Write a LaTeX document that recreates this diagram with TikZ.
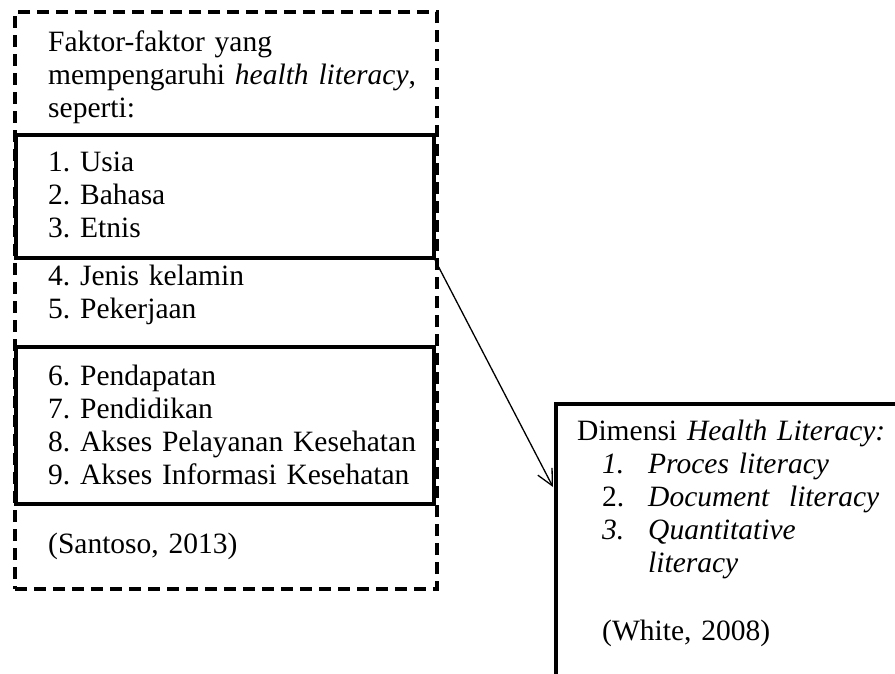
\documentclass[tikz,border=0pt]{standalone}
\usepackage{fontspec}
\setmainfont{Liberation Serif}
\usetikzlibrary{arrows.meta}
\frenchspacing
\tikzset{
  txt/.style={anchor=base west, inner sep=0pt, text width=#1, align=left,
    font=\fontsize{29.5}{33.3}\selectfont\frenchspacing},
  txt/.default=380pt,
  dashbox/.style={draw, line width=4pt, dash pattern=on 12pt off 7pt, inner sep=0pt, anchor=north west},
  solidbox/.style={draw, line width=4pt, inner sep=0pt, anchor=north west},
  conn/.style={line width=1.3pt, -{Straight Barb[length=16pt,width=16pt,line width=1.3pt]}}
}
\begin{document}
\begin{tikzpicture}[x=1pt,y=-1pt]
\useasboundingbox (0,0) rectangle (895,673);
\clip (0,0) rectangle (895,673);
\fill[white] (0,0) rectangle (895,673);
% boxes
\node[dashbox, minimum width=422pt, minimum height=577pt] (outer) at (13,10) {};
\node[solidbox, minimum width=418pt, minimum height=123pt] (box1) at (14,133) {};
\node[solidbox, minimum width=418pt, minimum height=157pt] (box2) at (14,345) {};
\node[solidbox, minimum width=346pt, minimum height=272pt] (rbox) at (554,402) {};
% left texts
\node[txt] (head) at (48,51) {Faktor-faktor yang\\mempengaruhi \textit{health literacy},\\seperti:};
\node[txt] (g1) at (48,171) {1. Usia\\2. Bahasa\\3. Etnis};
\node[txt] (g2) at (48,285) {4. Jenis kelamin\\5. Pekerjaan};
\node[txt] (g3) at (48,385) {6. Pendapatan\\7. Pendidikan\\8. Akses Pelayanan Kesehatan\\9. Akses Informasi Kesehatan};
\node[txt] (src1) at (48,553) {(Santoso, 2013)};
% right texts
\node[txt=310pt] (dim) at (577,440) {Dimensi \textit{Health Literacy:}};
\node[txt=60pt] (nums) at (602,473) {\textit{1.}\\2.\\\textit{3.}};
\node[txt=240pt] (items) at (648,473) {\textit{Proces literacy}\\\textit{Document\ \ literacy}\\\textit{Quantitative}\\\textit{literacy}};
\node[txt=260pt] (src2) at (602,640) {(White, 2008)};
% connector
\coordinate (from) at (435,260);
\coordinate (to) at (553,487);
\draw[conn] (from) -- (to);
\end{tikzpicture}
\end{document}
